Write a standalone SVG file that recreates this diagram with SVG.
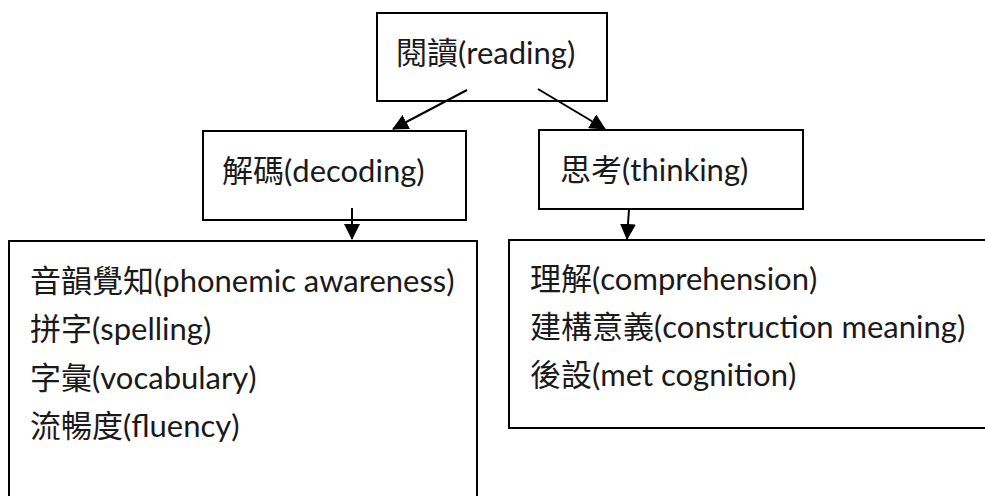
<svg xmlns="http://www.w3.org/2000/svg" width="985" height="496" viewBox="0 0 985 496">
  <style>
    .box { fill: #ffffff; stroke: #000000; stroke-width: 2; }
    .label { font-family: "Lato", "Noto Sans CJK TC", "Noto Sans CJK SC", sans-serif; font-size: 31px; fill: #1a1a1a; }
    .link { stroke: #000000; stroke-width: 2; fill: none; marker-end: url(#head); }
  </style>
  <defs>
    <marker id="head" viewBox="0 0 16 16" refX="15" refY="8" markerWidth="16" markerHeight="16" markerUnits="userSpaceOnUse" orient="auto">
      <path d="M0,0 L16,8 L0,16 Z" fill="#000000"/>
    </marker>
  </defs>

  <g id="reading">
    <rect class="box" x="377" y="13" width="230" height="88"/>
    <text class="label" x="396" y="64">閱讀(reading)</text>
  </g>

  <g id="decoding">
    <rect class="box" x="203" y="131" width="263" height="89"/>
    <text class="label" x="222" y="182">解碼(decoding)</text>
  </g>

  <g id="thinking">
    <rect class="box" x="539" y="130" width="264" height="79"/>
    <text class="label" x="560" y="181">思考(thinking)</text>
  </g>

  <g id="decoding-skills">
    <rect class="box" x="9" y="241" width="468" height="270"/>
    <text class="label" x="30" y="292">音韻覺知(phonemic awareness)</text>
    <text class="label" x="30" y="340">拼字(spelling)</text>
    <text class="label" x="30" y="389">字彙(vocabulary)</text>
    <text class="label" x="30" y="437">流暢度(fluency)</text>
  </g>

  <g id="thinking-skills">
    <rect class="box" x="509" y="240" width="490" height="188"/>
    <text class="label" x="530" y="290">理解(comprehension)</text>
    <text class="label" x="530" y="338">建構意義(construction meaning)</text>
    <text class="label" x="530" y="386">後設(met cognition)</text>
  </g>

  <g id="connectors">
    <line class="link" x1="467" y1="90" x2="393" y2="129"/>
    <line class="link" x1="538" y1="89" x2="605" y2="129"/>
    <line class="link" x1="352" y1="208" x2="352" y2="239"/>
    <line class="link" x1="629" y1="209" x2="627" y2="239"/>
  </g>
</svg>
